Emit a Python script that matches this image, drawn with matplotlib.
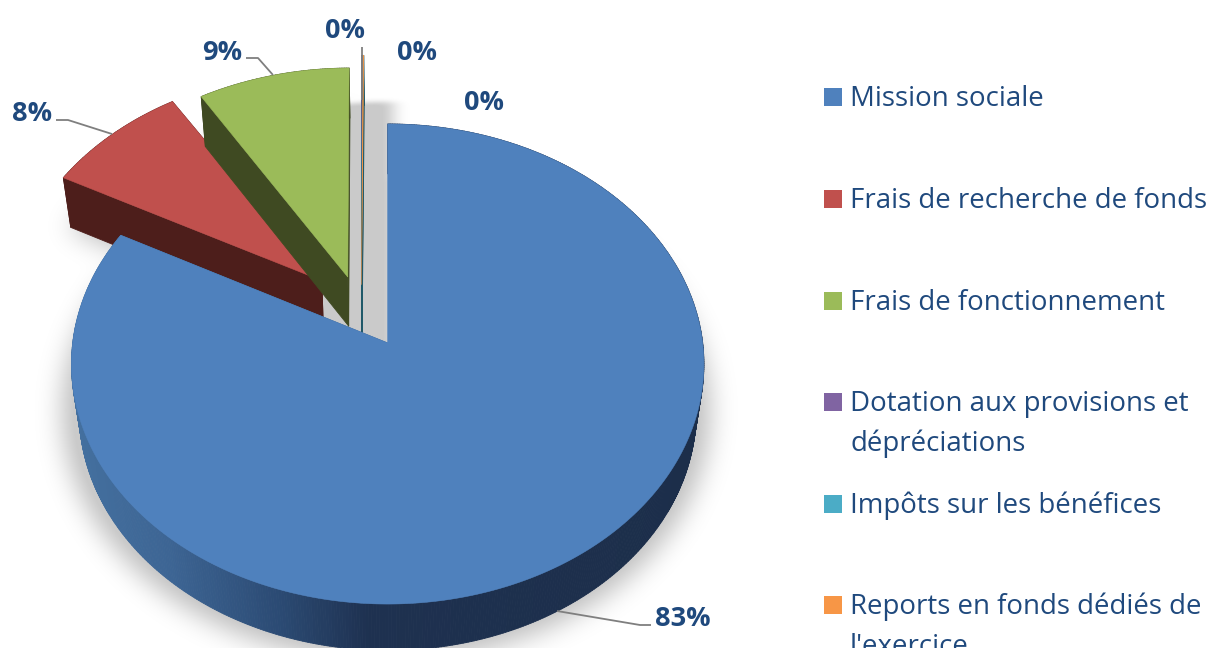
import numpy as np
import matplotlib
matplotlib.use("Agg")
import matplotlib.pyplot as plt
from matplotlib.collections import PolyCollection
from matplotlib.colors import LinearSegmentedColormap, to_rgb
from matplotlib.patches import Polygon, Rectangle
from matplotlib.path import Path

categories = ["Mission sociale", "Frais de recherche de fonds", "Frais de fonctionnement",
              "Dotation aux provisions et\ndépréciations", "Impôts sur les bénéfices",
              "Reports en fonds dédiés de\nl'exercice"]
values = [82.8, 8.2, 8.9, 0.03, 0.03, 0.04]
point_labels = ["83%", "8%", "9%", "0%", "0%", "0%"]

# slice displacement, radius and angular trim (exploded 3D pie styling)
offsets = [(0.0, 0.0), (-0.214, 0.268), (-0.130, 0.284), (-0.085, 0.25), (-0.085, 0.25), (-0.085, 0.25)]
radii = [1.0, 1.0, 1.0, 1.1, 1.1, 1.1]
start_trim_deg = [0, 0, 1.0, 0, 0, 0]
top_colors = ["#4F81BD", "#C0504D", "#9BBB59", "#8064A2", "#4BACC6", "#F79646"]
side_colors = ["#1D2F4B", "#4D1E1B", "#3F4A22", "#3A2D4C", "#1F5A6A", "#1F5A6A"]
text_color = "#1F497D"
leader_color = "#7F7F7F"

W, H = 1212, 648
CX, CY, RX, SY = 387.7, 343.0, 315.0, 238.2
K, M, T = 0.0875, 0.025, 50.0

plt.rcParams["font.family"] = ["Open Sans", "DejaVu Sans"]
fig = plt.figure(figsize=(W / 100, H / 100), dpi=100, facecolor="white")
ax = fig.add_axes([0, 0, 1, 1])
ax.set_axis_off()


def project(u, v, z=0.0):
    w = 1 + K * v + M * z
    return CX + RX * u / w, CY - (SY * v - T * z) / w


total = sum(values)
edges = np.concatenate([[0], np.cumsum(values)]) / total * 2 * np.pi
slices = []
for i in range(len(values)):
    a0, a1 = edges[i] + np.radians(start_trim_deg[i]), edges[i + 1]
    o = offsets[i]
    th = np.linspace(a0, a1, max(3, int((a1 - a0) * 120)))
    us = np.concatenate([[o[0]], o[0] + radii[i] * np.sin(th)])
    vs = np.concatenate([[o[1]], o[1] + radii[i] * np.cos(th)])
    slices.append((us, vs))


def poly(i, z=0.0):
    x, y = project(slices[i][0], slices[i][1], z)
    return np.column_stack([x, y])


# soft ground shadow (blurred on a padded grid so nothing wraps round)
PAD = 80
yy, xx = np.mgrid[-PAD:H + PAD, -PAD:W + PAD]
grid = np.column_stack([xx.ravel() + .5, yy.ravel() + .5])
shape = yy.shape


def blur(mask, sx, sy):
    fy = np.fft.fftfreq(shape[0])[:, None]
    fx = np.fft.rfftfreq(shape[1])[None, :]
    g = np.exp(-2 * np.pi ** 2 * ((sx * fx) ** 2 + (sy * fy) ** 2))
    return np.fft.irfft2(np.fft.rfft2(mask) * g, s=shape)


mask = np.zeros(shape)
for i in range(3):
    p = poly(i, 1.0)
    c = p.mean(axis=0)
    p2 = c + (p - c) * 1.05
    mask = np.maximum(mask, Path(p2).contains_points(grid).reshape(shape).astype(float))
soft = blur(mask, 13, 13)

gap_th = np.radians(np.linspace(-14, 1.0, 30))
gap_u = np.concatenate([[-0.3, 0.02], 1.11 * np.sin(gap_th)[::-1]])
gap_v = np.concatenate([[-0.02, -0.02], 1.11 * np.cos(gap_th)[::-1]])
gx, gy = project(gap_u, gap_v)
gap = Path(np.column_stack([gx, gy])).contains_points(grid).reshape(shape).astype(float)
soft2 = blur(gap, 8, 2.5)
shade = np.clip(np.maximum(soft * 1.25, soft2 * 1.1), 0, 1)[PAD:-PAD, PAD:-PAD]
rgba = np.zeros((H, W, 4))
rgba[..., 3] = 0.21 * shade
ax.imshow(rgba, extent=(0, W, H, 0), interpolation="nearest", zorder=1, aspect="auto")

side_cmap = LinearSegmentedColormap.from_list(
    "side", [(0.0, "#44709F"), (0.15, "#3D6594"), (0.33, "#2B4A73"), (0.47, "#1E3150"), (1.0, "#1C2E4A")])
zo = 2
for i in [1, 2, 3, 4, 5, 0]:
    top = poly(i, 0.0)
    bot = poly(i, 1.0)
    quads, cols = [], []
    n = len(top)
    for j in range(n):
        nxt = (j + 1) % n
        quads.append([top[j], top[nxt], bot[nxt], bot[j]])
        if i == 0:
            t = (top[j][0] - 72) / 632
            cols.append(side_cmap(np.clip(t, 0, 1)))
        else:
            cols.append(to_rgb(side_colors[i]))
    ax.add_collection(PolyCollection(quads, facecolors=cols, edgecolors=cols, linewidths=0.6, zorder=zo))
    zo += 1
    ax.add_patch(Polygon(top, closed=True, facecolor=top_colors[i], edgecolor=top_colors[i], linewidth=0.4, zorder=zo))
    zo += 1

# leaders
leaders = [
    ([557, 640, 651], [611, 625, 625]),
    ([56, 68, 112], [120, 120, 134]),
    ([246, 258, 273], [58, 58, 75]),
    ([361.5, 361.5], [47, 100]),
]
for lx, ly in leaders:
    ax.plot(lx, ly, color=leader_color, lw=1.3, zorder=zo, solid_capstyle="butt")
zo += 1

# data labels
label_pos = [(683, 618.5), (32, 114), (222, 52.5), (345, 31), (417, 53), (484, 103)]
for s, (lx, ly) in zip(point_labels, label_pos):
    ax.text(lx, ly, s, color=text_color, fontsize=19.5, fontweight="bold", ha="center", va="center", zorder=zo)

# legend
legend_y = [97, 199, 301, 402, 504, 605]
for name, col, ly in zip(categories, top_colors, legend_y):
    ax.add_patch(Rectangle((824, ly - 9), 18, 18, facecolor=col, edgecolor="none", zorder=zo))
    for k, part in enumerate(name.split("\n")):
        ax.text(850, ly + 9 + 39.5 * k, part, color=text_color, fontsize=19.9, ha="left", va="baseline", zorder=zo)

ax.set_xlim(0, W)
ax.set_ylim(H, 0)
fig.savefig("out.png", dpi=100)
